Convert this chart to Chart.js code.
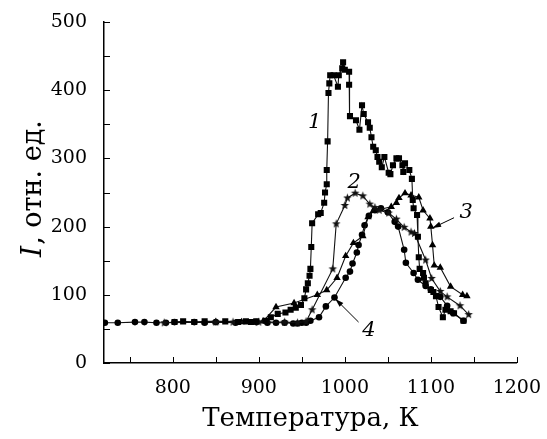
<!DOCTYPE html>
<html>
<head>
<meta charset="utf-8">
<script src="https://cdn.jsdelivr.net/npm/chart.js@4.4.1/dist/chart.umd.min.js"></script>
<style>
  html, body { margin: 0; padding: 0; background: #fff; }
  #wrap { width: 547px; height: 439px; }
</style>
</head>
<body>
<div id="wrap"><canvas id="c" width="547" height="439"></canvas></div>
<script>
// Curve 1 - squares
const t1 = [802, 812, 825, 837, 861, 876, 885, 891, 897, 908, 914, 922, 931, 937, 943, 949, 953, 955, 957, 959, 960, 961, 962, 969, 972, 976, 977, 979, 979, 980, 981, 982, 983, 987, 992, 993, 997, 998, 1000, 1005, 1005, 1006, 1013, 1017, 1020, 1022, 1027, 1029, 1031, 1033, 1036, 1038, 1040, 1043, 1046, 1051, 1053, 1056, 1060, 1063, 1067, 1068, 1070, 1075, 1078, 1079, 1080, 1084, 1085, 1086, 1087, 1091, 1092, 1094, 1100, 1103, 1106, 1109, 1114, 1117, 1123, 1127, 1138];
const i1 = [60, 61, 60, 61, 61, 60, 61, 60, 61, 62, 67, 72, 74, 78, 81, 85, 95, 108, 117, 128, 138, 170, 205, 218, 220, 235, 250, 262, 283, 325, 396, 410, 422, 422, 405, 422, 432, 441, 430, 427, 408, 362, 356, 342, 378, 365, 353, 345, 331, 317, 312, 302, 295, 287, 302, 279, 277, 290, 300, 300, 290, 280, 293, 283, 270, 239, 227, 217, 185, 155, 138, 132, 125, 117, 107, 104, 98, 82, 67, 78, 76, 73, 62];

// Curve 2 - stars
const t2 = [790, 850, 870, 900, 930, 945, 955, 962, 986, 990, 1000, 1003, 1012, 1021, 1029, 1035, 1040, 1051, 1060, 1069, 1077, 1081, 1094, 1101, 1111, 1119, 1134, 1144];
const i2 = [59, 60, 60, 60, 60, 59, 61, 78, 138, 204, 231, 242, 249, 245, 233, 228, 224, 220, 211, 199, 192, 190, 151, 124, 105, 97, 84, 71];

// Curve 3 - triangles
const t3 = [850, 880, 905, 920, 941, 968, 979, 991, 1001, 1010, 1021, 1027, 1033, 1054, 1060, 1063, 1070, 1077, 1086, 1091, 1099, 1100, 1102, 1104, 1111, 1123, 1137, 1142];
const i3 = [60, 60, 61, 82, 88, 100, 107, 125, 157, 176, 186, 214, 223, 229, 235, 242, 249, 246, 243, 224, 212, 200, 173, 143, 140, 112, 100, 98];

// Curve 4 - circles
const t4 = [721, 736, 756, 767, 781, 792, 802, 825, 837, 850, 873, 897, 910, 920, 930, 940, 945, 950, 955, 960, 970, 978, 988, 1001, 1006, 1009, 1014, 1016, 1020, 1023, 1028, 1035, 1042, 1050, 1058, 1062, 1069, 1071, 1080, 1085, 1094, 1100, 1111, 1119, 1126, 1138];
const i4 = [59, 59, 60, 60, 59, 59, 60, 60, 59, 60, 59, 60, 59, 59, 59, 58, 58, 59, 59, 62, 67, 83, 96, 125, 134, 146, 162, 173, 188, 202, 216, 224, 227, 221, 207, 200, 166, 147, 132, 122, 113, 108, 97, 84, 73, 62];

const xTicks = [750, 800, 850, 900, 950, 1000, 1050, 1100, 1150, 1200];
const yTicks = [0, 50, 100, 150, 200, 250, 300, 350, 400, 450, 500];

// curve numbers and arrows, in data units
const curveLabels = [
    { text: '1', x: 965, y: 353 },
    { text: '2', x: 1011, y: 264 },
    { text: '3', x: 1141, y: 220 },
    { text: '4', x: 1028, y: 48 }
];
const arrows = [
    { x0: 1127, y0: 213, x1: 1102, y1: 198 },
    { x0: 1016, y0: 60, x1: 989, y1: 94 }
];

const FONT = '"DejaVu Serif", "Liberation Serif", serif';

function zip(xs, ys) {
    return xs.map((x, i) => ({ x: x, y: ys[i] }));
}

// small filled five-point star for curve 2
function makeStar(r) {
    const c = document.createElement('canvas');
    const s = Math.ceil(r * 2 + 2);
    c.width = s; c.height = s;
    const g = c.getContext('2d');
    g.fillStyle = '#111';
    g.beginPath();
    for (let k = 0; k < 10; k++) {
        const a = -Math.PI / 2 + k * Math.PI / 5;
        const rr = k % 2 === 0 ? r : r * 0.42;
        const px = s / 2 + rr * Math.cos(a);
        const py = s / 2 + rr * Math.sin(a);
        if (k === 0) g.moveTo(px, py); else g.lineTo(px, py);
    }
    g.closePath();
    g.fill();
    return c;
}

// inward ticks, curve numbers, arrows and the y title
const decor = {
    id: 'decor',
    afterDraw(chart) {
        const ctx = chart.ctx;
        const xs = chart.scales.x, ys = chart.scales.y;
        const area = chart.chartArea;
        ctx.save();
        ctx.strokeStyle = '#000';
        ctx.lineWidth = 1;
        xTicks.forEach(v => {
            const px = Math.round(xs.getPixelForValue(v)) + 0.5;
            ctx.beginPath();
            ctx.moveTo(px, area.bottom);
            ctx.lineTo(px, area.bottom - 6);
            ctx.stroke();
        });
        yTicks.forEach(v => {
            const py = Math.round(ys.getPixelForValue(v)) + 0.5;
            ctx.beginPath();
            ctx.moveTo(area.left, py);
            ctx.lineTo(area.left + 6, py);
            ctx.stroke();
        });

        ctx.fillStyle = '#000';
        ctx.font = 'italic 21px ' + FONT;
        ctx.textAlign = 'center';
        ctx.textBaseline = 'middle';
        curveLabels.forEach(l => {
            ctx.fillText(l.text, xs.getPixelForValue(l.x), ys.getPixelForValue(l.y));
        });

        arrows.forEach(a => {
            const x0 = xs.getPixelForValue(a.x0), y0 = ys.getPixelForValue(a.y0);
            const x1 = xs.getPixelForValue(a.x1), y1 = ys.getPixelForValue(a.y1);
            ctx.beginPath();
            ctx.moveTo(x0, y0);
            ctx.lineTo(x1, y1);
            ctx.stroke();
            const ang = Math.atan2(y1 - y0, x1 - x0);
            ctx.beginPath();
            ctx.moveTo(x1, y1);
            ctx.lineTo(x1 - 9 * Math.cos(ang - 0.3), y1 - 9 * Math.sin(ang - 0.3));
            ctx.lineTo(x1 - 9 * Math.cos(ang + 0.3), y1 - 9 * Math.sin(ang + 0.3));
            ctx.closePath();
            ctx.fill();
        });

        // y axis title with italic I
        ctx.translate(34, 189);
        ctx.rotate(-Math.PI / 2);
        ctx.textAlign = 'left';
        ctx.textBaseline = 'middle';
        const fI = 'italic 28px ' + FONT;
        const fR = '27px ' + FONT;
        ctx.font = fI;
        const wI = ctx.measureText('I').width;
        ctx.font = fR;
        const rest = ', отн. ед.';
        const wR = ctx.measureText(rest).width;
        const start = -(wI + wR) / 2;
        ctx.font = fI;
        ctx.fillText('I', start, 0);
        ctx.font = fR;
        ctx.fillText(rest, start + wI + 1, 0);
        ctx.restore();
    }
};

const common = {
    borderColor: '#111',
    backgroundColor: '#000',
    pointBackgroundColor: '#000',
    pointBorderColor: '#000',
    borderWidth: 1.1,
    pointBorderWidth: 0,
    fill: false,
    tension: 0
};

new Chart(document.getElementById('c'), {
    type: 'line',
    data: {
        datasets: [
            Object.assign({ label: '1', data: zip(t1, i1), pointStyle: 'rect', pointRadius: 4.3 }, common),
            Object.assign({ label: '2', data: zip(t2, i2), pointStyle: makeStar(4.5), pointRadius: 4 }, common),
            Object.assign({ label: '3', data: zip(t3, i3), pointStyle: 'triangle', pointRadius: 4.3 }, common),
            Object.assign({ label: '4', data: zip(t4, i4), pointStyle: 'circle', pointRadius: 3.3 }, common)
        ]
    },
    options: {
        responsive: false,
        animation: false,
        devicePixelRatio: 1,
        layout: { padding: { top: 22, right: 25, left: 0, bottom: 0 } },
        plugins: {
            legend: { display: false },
            tooltip: { enabled: false }
        },
        scales: {
            x: {
                type: 'linear',
                min: 720,
                max: 1200,
                afterBuildTicks: s => { s.ticks = xTicks.map(v => ({ value: v })); },
                afterFit: s => { s.height = 76; },
                grid: { display: false },
                border: { display: true, color: '#000', width: 1.5 },
                ticks: {
                    autoSkip: false,
                    maxRotation: 0,
                    color: '#000',
                    padding: 6,
                    font: { family: FONT, size: 19 },
                    callback: v => (v % 100 === 0 ? v : '')
                },
                title: {
                    display: true,
                    text: 'Температура, К',
                    color: '#000',
                    font: { family: FONT, size: 26 },
                    padding: { top: 12 }
                }
            },
            y: {
                type: 'linear',
                min: 0,
                max: 500,
                afterBuildTicks: s => { s.ticks = yTicks.map(v => ({ value: v })); },
                afterFit: s => { s.width = 104; },
                grid: { display: false },
                border: { display: true, color: '#000', width: 1.5 },
                ticks: {
                    autoSkip: false,
                    color: '#000',
                    padding: 9,
                    font: { family: FONT, size: 19 },
                    callback: v => (v % 100 === 0 ? v : '')
                }
            }
        }
    },
    plugins: [decor]
});
</script>
</body>
</html>
